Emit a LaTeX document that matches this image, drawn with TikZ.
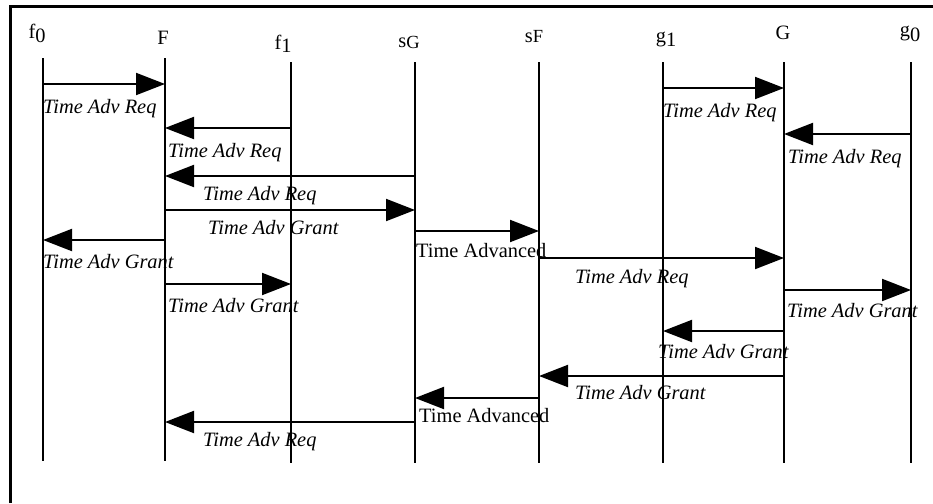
\documentclass[tikz,border=0pt]{standalone}
\usepackage{fontspec}
\setmainfont{Liberation Serif}
\usetikzlibrary{arrows.meta}
\newcommand{\lowered}[2][5pt]{\raisebox{-#1}{#2}}
\begin{document}
\begin{tikzpicture}[x=1pt,y=-1pt,
  txt/.style={font=\fontsize{20.4}{24}\selectfont, inner sep=0pt},
  head/.style={txt, anchor=base},
  lbl/.style={txt, font=\fontsize{20.4}{24}\selectfont\itshape, anchor=base west},
  plain/.style={txt, anchor=base west},
  life/.style={line width=2pt},
  frame/.style={line width=3pt},
  msg/.style={line width=2pt, -{Triangle[length=29pt,width=22pt]}}]
\useasboundingbox (0,0) rectangle (933,503);

% outer frame (left and top edges)
\draw[frame] (10,503) -- (10,6.5) -- (933,6.5);

% lifeline columns
\coordinate (f0) at (43,0);
\coordinate (F)  at (165,0);
\coordinate (f1) at (291,0);
\coordinate (sG) at (415,0);
\coordinate (sF) at (539,0);
\coordinate (g1) at (663,0);
\coordinate (G)  at (784,0);
\coordinate (g0) at (911,0);

% lifeline ends
\coordinate (top1) at (0,58);
\coordinate (top2) at (0,62);
\coordinate (bot1) at (0,461);
\coordinate (bot2) at (0,463);

\draw[life] (f0 |- top1) -- (f0 |- bot1);
\draw[life] (F  |- top1) -- (F  |- bot1);
\foreach \c in {f1,sG,sF,g1,G,g0}
  \draw[life] (\c |- top2) -- (\c |- bot2);

% lifeline headings
\node[head] (hf0) at (37,38)  {f\lowered{0}};
\node[head] (hF)  at (163,45) {F};
\node[head] (hf1) at (283,49) {f\lowered[3pt]{1}};
\node[head] (hsG) at (409,48) {s\lowered[1pt]{\fontsize{18.5}{22}\selectfont G}};
\node[head] (hsF) at (534,42) {s\lowered[1pt]{\fontsize{18.5}{22}\selectfont F}};
\node[head] (hg1) at (666,42) {g\lowered[4pt]{1}};
\node[head] (hG)  at (783,40) {G};
\node[head] (hg0) at (910,37) {g\lowered{0}};

% message rows
\coordinate (r1)  at (0,84);
\coordinate (r14) at (0,88);
\coordinate (r2)  at (0,128);
\coordinate (r15) at (0,134);
\coordinate (r3)  at (0,176);
\coordinate (r4)  at (0,210);
\coordinate (r5)  at (0,231);
\coordinate (r6)  at (0,240);
\coordinate (r7)  at (0,258);
\coordinate (r8)  at (0,284);
\coordinate (r9)  at (0,290);
\coordinate (r10) at (0,331);
\coordinate (r11) at (0,376);
\coordinate (r12) at (0,398);
\coordinate (r13) at (0,422);

% messages
\draw[msg] (f0 |- r1)  -- (F  |- r1);
\draw[msg] (g1 |- r14) -- (G  |- r14);
\draw[msg] (f1 |- r2)  -- (F  |- r2);
\draw[msg] (g0 |- r15) -- (G  |- r15);
\draw[msg] (sG |- r3)  -- (F  |- r3);
\draw[msg] (F  |- r4)  -- (sG |- r4);
\draw[msg] (sG |- r5)  -- (sF |- r5);
\draw[msg] (F  |- r6)  -- (f0 |- r6);
\draw[msg] (sF |- r7)  -- (G  |- r7);
\draw[msg] (F  |- r8)  -- (f1 |- r8);
\draw[msg] (G  |- r9)  -- (g0 |- r9);
\draw[msg] (G  |- r10) -- (g1 |- r10);
\draw[msg] (G  |- r11) -- (sF |- r11);
\draw[msg] (sF |- r12) -- (sG |- r12);
\draw[msg] (sG |- r13) -- (F  |- r13);

% message labels
\node[lbl]   (l1)  at (43,113)  {Time Adv Req};
\node[lbl]   (l14) at (663,117) {Time Adv Req};
\node[lbl]   (l2)  at (168,157) {Time Adv Req};
\node[lbl]   (l15) at (788,163) {Time Adv Req};
\node[lbl]   (l3)  at (203,200) {Time Adv Req};
\node[lbl]   (l4)  at (208,234) {Time Adv Grant};
\node[plain] (l5)  at (416,257) {Time Advanced};
\node[lbl]   (l6)  at (43,268)  {Time Adv Grant};
\node[lbl]   (l7)  at (575,283) {Time Adv Req};
\node[lbl]   (l8)  at (168,312) {Time Adv Grant};
\node[lbl]   (l9)  at (787,317) {Time Adv Grant};
\node[lbl]   (l10) at (658,358) {Time Adv Grant};
\node[lbl]   (l11) at (575,399) {Time Adv Grant};
\node[plain] (l12) at (419,422) {Time Advanced};
\node[lbl]   (l13) at (203,446) {Time Adv Req};
\end{tikzpicture}
\end{document}
